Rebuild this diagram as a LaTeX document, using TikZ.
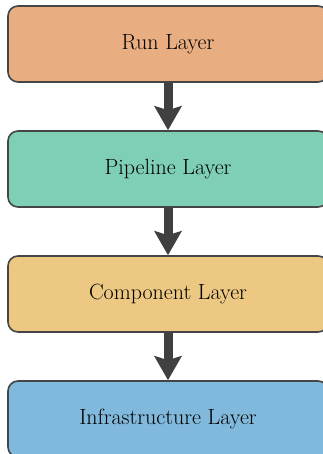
\documentclass[tikz,border=0pt]{standalone}
\usetikzlibrary{arrows.meta}
\definecolor{runc}{HTML}{E8AD80}
\definecolor{pipec}{HTML}{7ECFB5}
\definecolor{compc}{HTML}{EDC882}
\definecolor{infc}{HTML}{80B9DC}
\definecolor{edgec}{HTML}{454545}
\definecolor{arrc}{HTML}{404040}
\tikzset{
  layerbox/.style={draw=edgec, line width=1.6pt, rounded corners=10pt, minimum width=320pt, minimum height=76pt, inner sep=0pt, font=\fontsize{22}{26}\selectfont, text=black},
  flowarrow/.style={draw=arrc, line width=9pt, -{Stealth[length=24pt,width=27pt,inset=4pt]}}
}
\begin{document}
\begin{tikzpicture}[x=1pt,y=1pt]
\useasboundingbox (0,0) rectangle (323,-454);
\clip (0,0) rectangle (323,-454);
\node[layerbox, fill=runc] (run) at (168,-44) {Run Layer};
\node[layerbox, fill=pipec] (pipe) at (168,-169) {Pipeline Layer};
\node[layerbox, fill=compc] (comp) at (168,-294) {Component Layer};
\node[layerbox, fill=infc] (inf) at (168,-419) {Infrastructure Layer};
\draw[flowarrow] (run.south) -- (pipe.north);
\draw[flowarrow] (pipe.south) -- (comp.north);
\draw[flowarrow] (comp.south) -- (inf.north);
\end{tikzpicture}
\end{document}
